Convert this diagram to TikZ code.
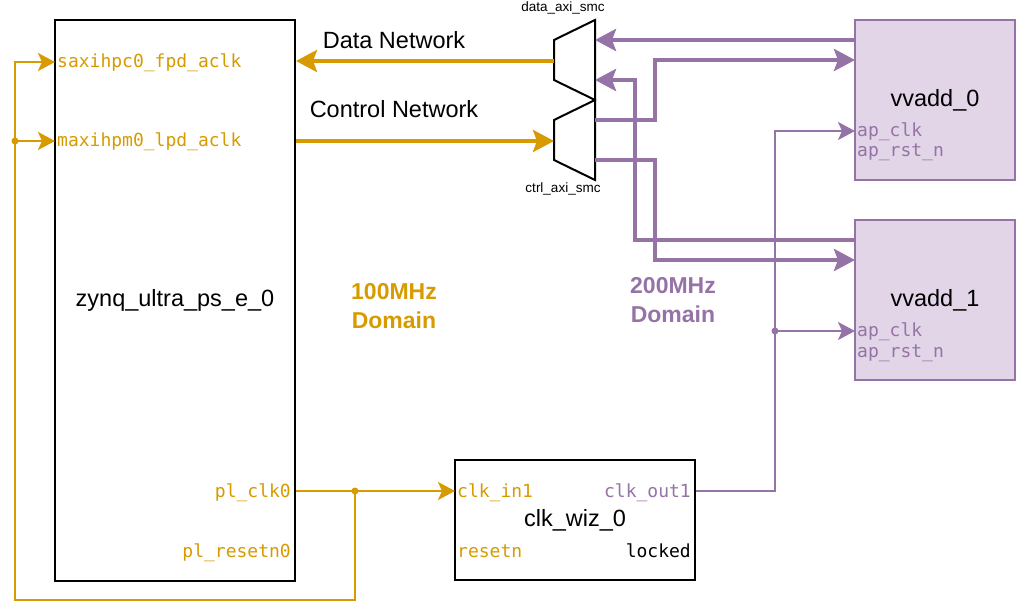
\documentclass[tikz,border=0pt]{standalone}
\usepackage{fontspec}
\setmainfont{Liberation Sans}
\setmonofont{DejaVu Sans Mono}
\usepackage{xcolor}
\usepackage{tikz}
\usetikzlibrary{arrows.meta}
\definecolor{orangeLine}{HTML}{D79B00}
\definecolor{purpleLine}{HTML}{9673A6}
\definecolor{purpleFill}{HTML}{E1D5E7}
\tikzstyle{block} = [rectangle, draw=black, line width=2pt, fill=white, inner sep=0pt, font=\fontsize{23.5}{28}\selectfont]
\tikzstyle{kernel} = [rectangle, draw=purpleLine, fill=purpleFill, line width=2pt, minimum width=160pt, minimum height=160pt, inner sep=0pt, font=\fontsize{23.5}{28}\selectfont]
\tikzstyle{port} = [inner sep=2pt, text height=15pt, text depth=3pt, font=\ttfamily\fontsize{18}{20}\selectfont]
\tikzstyle{smc} = [draw=black, line width=2pt, line join=miter, fill=white]
\tikzstyle{smclabel} = [inner sep=0pt, font=\fontsize{13.5}{16}\selectfont]
\tikzstyle{netlabel} = [inner sep=0pt, font=\fontsize{23.5}{28}\selectfont]
\tikzstyle{clkdomain} = [inner sep=0pt, align=center, font=\bfseries\fontsize{23}{29}\selectfont]
\tikzstyle{bus} = [line width=4pt, -{Stealth[length=21pt,width=22pt,inset=4pt]}]
\tikzstyle{clkarrow} = [line width=2.2pt, -{Stealth[length=17pt,width=18pt,inset=4pt]}]

\begin{document}
\begin{tikzpicture}[x=1pt, y=-1pt]
    \useasboundingbox (0,0) rectangle (1018,604);

    \node (zynq) [block, minimum width=240pt, minimum height=561pt] at (175,300.5) {zynq\_ultra\_ps\_e\_0};
    \node (saxi) [port, anchor=west, text=orangeLine] at (55,62) {saxihpc0\_fpd\_aclk};
    \node (maxi) [port, anchor=west, text=orangeLine] at (55,141) {maxihpm0\_lpd\_aclk};
    \node (plClk) [port, anchor=east, text=orangeLine] at (293,491) {pl\_clk0};
    \node (plRst) [port, anchor=east, text=orangeLine] at (293,551) {pl\_resetn0};

    \node (clkWiz) [block, minimum width=240pt, minimum height=120pt] at (575,520) {clk\_wiz\_0};
    \node (clkIn) [port, anchor=west, text=orangeLine] at (455,491) {clk\_in1};
    \node (clkOut) [port, anchor=east, text=purpleLine] at (693,491) {clk\_out1};
    \node (wizRst) [port, anchor=west, text=orangeLine] at (455,551) {resetn};
    \node (locked) [port, anchor=east] at (693,551) {locked};

    \node (vvadd0) [kernel] at (935,100) {vvadd\_0};
    \node (apClk0) [port, anchor=west, text=purpleLine] at (855,131) {ap\_clk};
    \node (apRst0) [port, anchor=west, text=purpleLine] at (855,151) {ap\_rst\_n};
    \node (vvadd1) [kernel] at (935,300) {vvadd\_1};
    \node (apClk1) [port, anchor=west, text=purpleLine] at (855,331) {ap\_clk};
    \node (apRst1) [port, anchor=west, text=purpleLine] at (855,351) {ap\_rst\_n};

    % smartconnects
    \draw [smc] (554,40) -- (595,20) -- (595,100) -- (554,80) -- cycle;
    \draw [smc] (554,120) -- (595,100) -- (595,180) -- (554,160) -- cycle;
    \node (dataSmcLbl) [smclabel] at (563,8) {data\_axi\_smc};
    \node (ctrlSmcLbl) [smclabel] at (563,189) {ctrl\_axi\_smc};
    \coordinate (dataSmcIn) at (554,61);
    \coordinate (dataSmcS0) at (595,40);
    \coordinate (dataSmcS1) at (595,80);
    \coordinate (ctrlSmcIn) at (554,141);
    \coordinate (ctrlSmcM0) at (595,120);
    \coordinate (ctrlSmcM1) at (595,160);
    \coordinate (v0Out) at (855,40);
    \coordinate (v0In) at (855,60);
    \coordinate (v1Out) at (855,240);
    \coordinate (v1In) at (855,260);

    \node (dataLbl) [netlabel] at (394,40) {Data Network};
    \node (ctrlLbl) [netlabel] at (394,109) {Control Network};
    \node (psDomain) [clkdomain, text=orangeLine] at (394,306) {100MHz\\Domain};
    \node (plDomain) [clkdomain, text=purpleLine] at (673,300) {200MHz\\Domain};

    \draw [bus, orangeLine] (dataSmcIn) -- (zynq.east |- dataSmcIn);
    \draw [bus, orangeLine] (zynq.east |- ctrlSmcIn) -- (ctrlSmcIn);

    \draw [bus, purpleLine] (v0Out) -- (dataSmcS0);
    \draw [bus, purpleLine] (ctrlSmcM0) -| (655,60) -- (v0In);
    \draw [bus, purpleLine] (v1Out) -| (635,80) -- (dataSmcS1);
    \draw [bus, purpleLine] (ctrlSmcM1) -| (655,260) -- (v1In);

    % 100MHz clock
    \coordinate (plClkDot) at (355,491);
    \coordinate (loopDot) at (15,141);
    \draw [clkarrow, orangeLine] (zynq.east |- plClk) -- (clkIn.west);
    \draw [clkarrow, orangeLine] (plClkDot) |- (15,600) |- (saxi.west);
    \draw [clkarrow, orangeLine] (loopDot) -- (maxi.west);
    \fill [orangeLine] (plClkDot) circle (3.5pt) (loopDot) circle (3.5pt);

    % 200MHz clock
    \coordinate (apClkDot) at (775,331);
    \draw [clkarrow, purpleLine] (clkWiz.east |- clkOut) -| (775,131) -- (apClk0.west);
    \draw [clkarrow, purpleLine] (apClkDot) -- (apClk1.west);
    \fill [purpleLine] (apClkDot) circle (3.5pt);
\end{tikzpicture}
\end{document}
